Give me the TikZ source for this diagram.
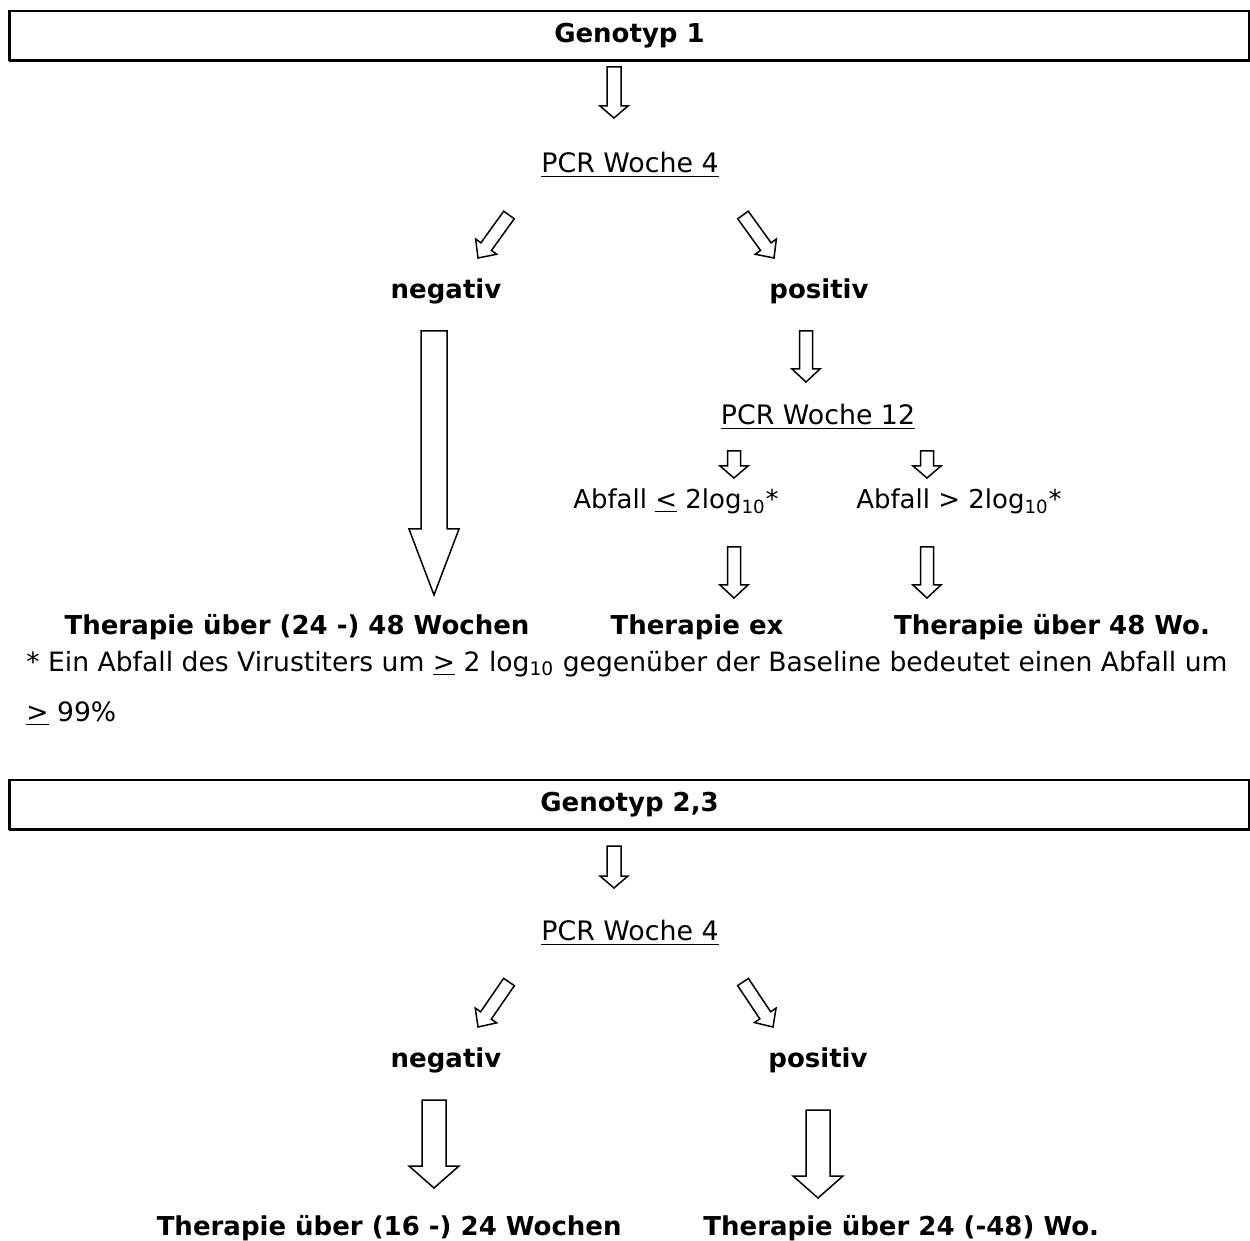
\documentclass[tikz,border=0pt]{standalone}
\usepackage{fontspec}
\setmainfont{DejaVu Sans}
\usetikzlibrary{calc,positioning}
\tikzset{
   hollow/.style={draw,fill=white,line width=0.75pt,line join=miter},
   genobox/.style={draw,line width=0.75pt,minimum width=619.5pt,minimum height=24.5pt,inner sep=0pt,font=\fontsize{13}{16}\selectfont\bfseries},
   bf/.style={inner sep=0pt,font=\fontsize{13}{16}\selectfont\bfseries},
   rm/.style={inner sep=0pt,font=\fontsize{13}{16}\selectfont},
   pcr/.style={inner sep=0pt,font=\fontsize{13.4}{16}\selectfont},
   fn/.style={inner sep=0pt,anchor=west,font=\fontsize{13.3}{16}\selectfont},
}
% hollow block arrow: start, end, shaft half width, head half width, head length
\newcommand{\hollowarrow}[5]{%
  \coordinate (hbase) at ($(#2)!#5!(#1)$);
  \draw[hollow] ($(#1)!#3!90:(#2)$) -- ($(hbase)!#3!-90:(#1)$) -- ($(hbase)!#4!-90:(#1)$) -- (#2)
     -- ($(hbase)!#4!90:(#1)$) -- ($(hbase)!#3!90:(#1)$) -- ($(#1)!#3!-90:(#2)$) -- cycle;
}

\begin{document}
\begin{tikzpicture}[x=0.5pt,y=-0.5pt]
      \useasboundingbox (0,0) rectangle (1250,1241);
      % Genotyp 1
      \node[genobox] (geno1) at (629.5,35.5) {Genotyp 1};
      \draw[line width=1.5pt] (geno1.south west) -- (geno1.south east);
      \draw[line width=1pt] (geno1.south west) -- (geno1.north west);
      \node[pcr] (pcrA) at (630,165) {\underline{PCR Woche 4}};
      \node[bf] (negA) at (446,291) {negativ};
      \node[bf] (posA) at (819,291) {positiv};
      \node[pcr] (pcrB) at (818,417) {\underline{PCR Woche 12}};
      \node[rm] (abfA) at (676,501) {Abfall \underline{<} 2log\textsubscript{10}*};
      \node[rm] (abfB) at (959,501) {Abfall > 2log\textsubscript{10}*};
      \node[bf] (thA) at (297,627) {Therapie über (24 -) 48 Wochen};
      \node[bf] (thB) at (697,627) {Therapie ex};
      \node[bf] (thC) at (1052,627) {Therapie über 48 Wo.};
      \node[fn] (fnA) at (26,664) {* Ein Abfall des Virustiters um \underline{>} 2 log\textsubscript{10} gegenüber der Baseline bedeutet einen Abfall um};
      \node[fn] (fnB) at (26,714) {\underline{>} 99\%};
      \coordinate (a1s) at (614,67);   \coordinate (a1e) at (614,118);
      \coordinate (dls) at (509,215);  \coordinate (dle) at (478,258);
      \coordinate (drs) at (743,215);  \coordinate (dre) at (774,258);
      \coordinate (bgs) at (434,331);  \coordinate (bge) at (434,595);
      \coordinate (p1s) at (806,331);  \coordinate (p1e) at (806,382);
      \coordinate (s1s) at (734,451);  \coordinate (s1e) at (734,478);
      \coordinate (s2s) at (927,451);  \coordinate (s2e) at (927,478);
      \coordinate (l1s) at (734,547);  \coordinate (l1e) at (734,598);
      \coordinate (l2s) at (927,547);  \coordinate (l2e) at (927,598);
      \hollowarrow{a1s}{a1e}{3.5pt}{7pt}{6pt}
      \hollowarrow{dls}{dle}{3.25pt}{6.5pt}{7pt}
      \hollowarrow{drs}{dre}{3.25pt}{6.5pt}{7pt}
      \hollowarrow{bgs}{bge}{6.5pt}{12.5pt}{33pt}
      \hollowarrow{p1s}{p1e}{3.25pt}{7pt}{6.5pt}
      \hollowarrow{s1s}{s1e}{3.25pt}{7pt}{6pt}
      \hollowarrow{s2s}{s2e}{3.25pt}{7pt}{6pt}
      \hollowarrow{l1s}{l1e}{3.25pt}{7pt}{6.5pt}
      \hollowarrow{l2s}{l2e}{3.25pt}{7pt}{6.5pt}
      % Genotyp 2,3
      \node[genobox] (geno2) at (629.5,804.5) {Genotyp 2,3};
      \draw[line width=1.5pt] (geno2.south west) -- (geno2.south east);
      \draw[line width=1pt] (geno2.south west) -- (geno2.north west);
      \node[pcr] (pcrC) at (630,933) {\underline{PCR Woche 4}};
      \node[bf] (negB) at (446,1060) {negativ};
      \node[bf] (posB) at (818,1060) {positiv};
      \node[bf,anchor=east] (thD) at (622,1228) {Therapie über (16 -) 24 Wochen};
      \node[bf,anchor=west] (thE) at (703,1228) {Therapie über 24 (-48) Wo.};
      \coordinate (a2s) at (614,846);  \coordinate (a2e) at (614,888);
      \coordinate (els) at (509,982);  \coordinate (ele) at (478,1027);
      \coordinate (ers) at (743,982);  \coordinate (ere) at (773,1027);
      \coordinate (b2s) at (434,1100); \coordinate (b2e) at (434,1188);
      \coordinate (b3s) at (818,1110); \coordinate (b3e) at (818,1198);
      \hollowarrow{a2s}{a2e}{3.5pt}{7pt}{6pt}
      \hollowarrow{els}{ele}{3.25pt}{6.5pt}{7pt}
      \hollowarrow{ers}{ere}{3.25pt}{6.5pt}{7pt}
      \hollowarrow{b2s}{b2e}{6pt}{12.5pt}{11pt}
      \hollowarrow{b3s}{b3e}{6pt}{12.5pt}{11pt}
    \end{tikzpicture}
\end{document}
